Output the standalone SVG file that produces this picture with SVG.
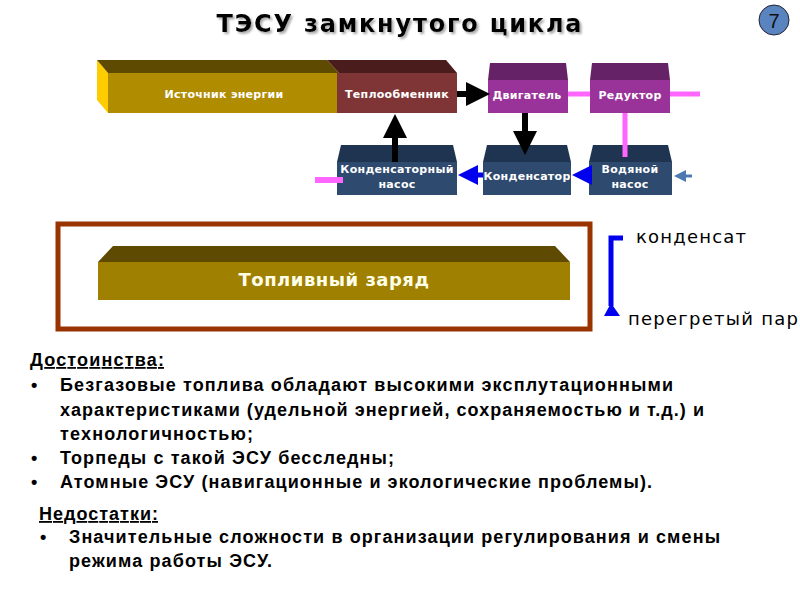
<svg xmlns="http://www.w3.org/2000/svg" width="800" height="600" viewBox="0 0 800 600">
<defs>
<style>
.lbl{font-family:"DejaVu Sans",Verdana,sans-serif;font-weight:bold;font-size:11px;fill:#fff;text-anchor:middle;letter-spacing:0.3px}
.body{font-family:"Liberation Sans",Arial,sans-serif;font-weight:bold;font-size:18px;fill:#000}
.side{font-family:"DejaVu Sans",Verdana,sans-serif;font-size:18px;fill:#000}
.blk{stroke:#000;stroke-width:6;fill:none}
.blu{stroke:#0000EE;stroke-width:5;fill:none}
.pink{stroke:#FF66FF;stroke-width:5;fill:none}
</style>
<filter id="sh" x="-5%" y="-20%" width="110%" height="150%"><feDropShadow dx="2" dy="2" stdDeviation="0.8" flood-color="#888" flood-opacity="0.7"/></filter>
<marker id="ab" markerWidth="4" markerHeight="4" refX="2" refY="2" orient="auto" markerUnits="strokeWidth"><path d="M0,0 L4,2 L0,4 Z" fill="#000"/></marker>
<marker id="au" markerWidth="4" markerHeight="4" refX="2" refY="2" orient="auto" markerUnits="strokeWidth"><path d="M0,0 L4,2 L0,4 Z" fill="#0000EE"/></marker>
<marker id="as" markerWidth="4" markerHeight="4" refX="2" refY="2" orient="auto" markerUnits="strokeWidth"><path d="M0,0 L4,2 L0,4 Z" fill="#4A7AB0"/></marker>
</defs>
<rect width="800" height="600" fill="#fff"/>

<g id="title">
<text x="399" y="32" font-family="DejaVu Sans,Verdana,sans-serif" font-weight="bold" font-size="24" fill="#000" text-anchor="middle" textLength="365" filter="url(#sh)">ТЭСУ замкнутого цикла</text>
</g>
<g id="pagenum">
<circle cx="774" cy="20" r="15" fill="#5A84C0" stroke="#223" stroke-width="1"/>
<text x="774" y="28" font-family="Liberation Sans,Arial,sans-serif" font-size="20" fill="#111" text-anchor="middle">7</text>
</g>

<g id="source">
<polygon points="97,60 108,73 108,113 97,100" fill="#FFCC00"/>
<polygon points="97,60 327,60 339,73 108,73" fill="#5E4A00"/>
<rect x="108" y="73" width="230" height="40" fill="#B08C00"/>
<text class="lbl" x="224" y="98">Источник энергии</text>
</g>
<g id="heat">
<polygon points="327,60 446,60 457,73 339,73" fill="#4A1C1C"/>
<rect x="337" y="73" width="120" height="40" fill="#7F3535"/>
<text class="lbl" x="397" y="98">Теплообменник</text>
</g>
<g id="engine">
<polygon points="490,63 566,63 568,80 488,80" fill="#662266"/>
<rect x="488" y="80" width="80" height="33" fill="#993399"/>
<text class="lbl" x="527" y="99">Двигатель</text>
</g>
<g id="reducer">
<polygon points="592,63 668,63 670,80 590,80" fill="#662266"/>
<rect x="590" y="80" width="80" height="33" fill="#993399"/>
<text class="lbl" x="630" y="99">Редуктор</text>
</g>
<g id="cpump">
<polygon points="341,145 453,145 457,162 337,162" fill="#1E3450"/>
<rect x="337" y="162" width="120" height="33" fill="#2E4A6E"/>
<text class="lbl" x="397" y="173">Конденсаторный</text>
<text class="lbl" x="397" y="188">насос</text>
</g>
<g id="condenser">
<polygon points="487,145 567,145 571,162 483,162" fill="#1E3450"/>
<rect x="483" y="162" width="88" height="33" fill="#2E4A6E"/>
<text class="lbl" x="527" y="180">Конденсатор</text>
</g>
<g id="wpump">
<polygon points="593,145 668,145 672,162 589,162" fill="#1E3450"/>
<rect x="589" y="162" width="83" height="33" fill="#2E4A6E"/>
<text class="lbl" x="630" y="173">Водяной</text>
<text class="lbl" x="630" y="188">насос</text>
</g>

<g id="connectors">
<line class="blk" x1="457" y1="94" x2="478" y2="94" marker-end="url(#ab)"/>
<line class="blk" x1="395" y1="162" x2="395" y2="126" marker-end="url(#ab)"/>
<line class="blk" x1="525" y1="113" x2="525" y2="143" marker-end="url(#ab)"/>
<line class="pink" x1="568" y1="94" x2="590" y2="94"/>
<line class="pink" x1="670" y1="94" x2="700" y2="94"/>
<line class="pink" x1="625" y1="113" x2="625" y2="157"/>
<line x1="315" y1="180" x2="343" y2="180" stroke="#FF66FF" stroke-width="6"/>
<line class="blu" x1="483" y1="175" x2="468" y2="175" marker-end="url(#au)"/>
<line class="blu" x1="589" y1="175" x2="582" y2="175" marker-end="url(#au)"/>
<line x1="692" y1="176" x2="680" y2="176" stroke="#4A7AB0" stroke-width="3" marker-end="url(#as)"/>
</g>

<g id="fuel">
<rect x="58" y="224" width="532" height="105" fill="none" stroke="#993300" stroke-width="5"/>
<polygon points="113,246 555,246 570,262 98,262" fill="#5E4A00"/>
<rect x="98" y="262" width="472" height="38" fill="#A08000"/>
<text x="334" y="286" font-family="DejaVu Sans,Verdana,sans-serif" font-weight="bold" font-size="18" fill="#FFFFE8" text-anchor="middle" letter-spacing="0.5">Топливный заряд</text>
</g>

<g id="legend">
<polyline points="623,238 611,238 611,306" stroke="#0000EE" stroke-width="5" fill="none"/>
<polygon points="611,303 604,316 620,316" fill="#0000EE"/>
<text class="side" x="636" y="243" textLength="110">конденсат</text>
<text class="side" x="628" y="325" textLength="170">перегретый пар</text>
</g>

<g id="text">
<text class="body" x="30" y="366" textLength="134" text-decoration="underline">Достоинства:</text>
<text class="body" x="31" y="391">•</text>
<text class="body" x="60" y="391" textLength="613">Безгазовые топлива обладают высокими эксплутационными</text>
<text class="body" x="60" y="416" textLength="644">характеристиками (удельной энергией, сохраняемостью и т.д.) и</text>
<text class="body" x="60" y="440" textLength="193">технологичностью;</text>
<text class="body" x="31" y="464">•</text>
<text class="body" x="60" y="464" textLength="334">Торпеды с такой ЭСУ бесследны;</text>
<text class="body" x="31" y="488">•</text>
<text class="body" x="60" y="488" textLength="592">Атомные ЭСУ (навигационные и экологические проблемы).</text>
<text class="body" x="39" y="520" textLength="119" text-decoration="underline">Недостатки:</text>
<text class="body" x="40" y="543">•</text>
<text class="body" x="69" y="543" textLength="651">Значительные сложности в организации регулирования и смены</text>
<text class="body" x="69" y="567" textLength="203">режима работы ЭСУ.</text>
</g>
</svg>
